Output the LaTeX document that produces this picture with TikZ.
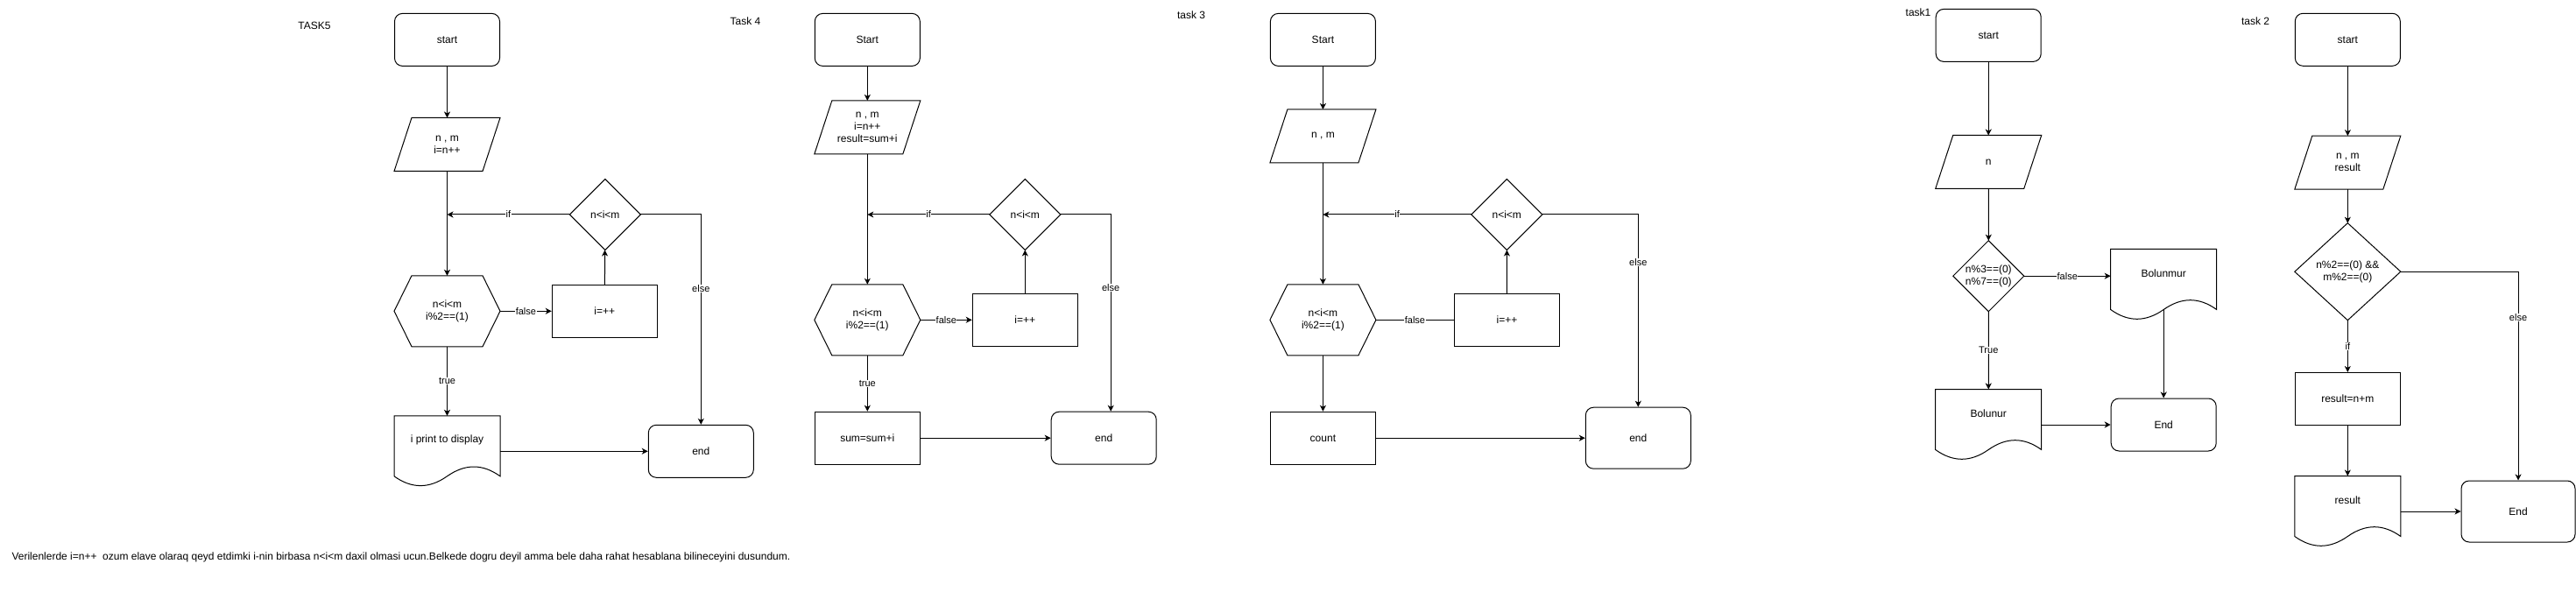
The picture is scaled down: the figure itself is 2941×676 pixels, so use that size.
\documentclass[tikz,border=0pt]{standalone}
\usepackage{fontspec}
\setmainfont{Liberation Sans}
\usetikzlibrary{arrows.meta}
\tikzset{
  base/.style={inner sep=0pt,align=center,font=\fontsize{12}{14}\selectfont},
  termbox/.style={base,draw,rounded corners=9pt,minimum width=120pt,minimum height=60pt},
  procbox/.style={base,draw,minimum width=120pt,minimum height=60pt},
  iobox/.style={base,minimum width=120pt,minimum height=60pt},
  hexbox/.style={base,minimum width=120pt,minimum height=80pt},
  decbox/.style={base,minimum width=80pt,minimum height=80pt},
  docbox/.style={base,minimum width=120pt,minimum height=80pt,label={[base,yshift=12.5pt]center:#1}},
  lbl/.style={fill=white,inner sep=0.5pt,font=\fontsize{11}{13}\selectfont},
}
\begin{document}
\begin{tikzpicture}[x=1pt,y=-1pt,line width=1pt,>={Stealth[length=7pt,width=7pt,inset=2pt]}]
  \useasboundingbox (0,0) rectangle (2941,676);
  % task 5
  \node[base] (t5) at (359,29.5) {TASK5};
  \node[termbox] (s5) at (510.5,45.4) {start};
  \node[iobox] (p5) at (510.5,165) {n , m\\i=n++};
  \node[decbox] (q5) at (690.8,245) {n<i<m};
  \node[hexbox] (h5) at (510.5,355.3) {n<i<m\\i\%2==(1)};
  \node[procbox] (i5) at (690.3,355.3) {i=++};
  \node[docbox={i print to display}] (d5) at (510.5,515.3) {};
  \node[termbox] (e5) at (800.3,515.3) {end};
  \draw[->] (s5) -- (p5);
  \draw[->] (p5) -- (h5);
  \draw[->] (q5) -- node[lbl]{if} (q5 -| p5);
  \draw[->] (h5) -- node[lbl]{false} (i5);
  \draw[->] (i5) -- (q5);
  \draw[->] (q5) -| node[lbl,pos=0.677]{else} (e5);
  \draw[->] (h5) -- node[lbl]{true} (d5);
  \draw[->] (d5) -- (e5);
  % task 4
  \node[base] (t4) at (851,24.5) {Task 4};
  \node[termbox] (s4) at (990.3,45.4) {Start};
  \node[iobox] (p4) at (990.3,145.4) {n , m\\i=n++\\result=sum+i};
  \node[decbox] (q4) at (1170.3,245) {n<i<m};
  \node[hexbox] (h4) at (990.3,365.3) {n<i<m\\i\%2==(1)};
  \node[procbox] (i4) at (1170.3,365.3) {i=++};
  \node[procbox] (b4) at (990.3,500.2) {sum=sum+i};
  \node[termbox] (e4) at (1260.2,500.2) {end};
  \draw[->] (s4) -- (p4);
  \draw[->] (p4) -- (h4);
  \draw[->] (q4) -- node[lbl]{if} (q4 -| p4);
  \draw[->] (h4) -- node[lbl]{false} (i4);
  \draw[->] (i4) -- (q4);
  \draw[->] (q4) -| node[lbl,pos=0.685]{else} ([xshift=8pt]e4.north);
  \draw[->] (h4) -- node[lbl]{true} (b4);
  \draw[->] (b4) -- (e4);
  % task 3
  \node[base] (t3) at (1360,17.2) {task 3};
  \node[termbox] (s3) at (1510.4,45.4) {Start};
  \node[iobox] (p3) at (1510.4,155.4) {n , m};
  \node[decbox] (q3) at (1720.3,245) {n<i<m};
  \node[hexbox] (h3) at (1510.4,365.3) {n<i<m\\i\%2==(1)};
  \node[procbox] (i3) at (1720.5,365.3) {i=++};
  \node[procbox] (c3) at (1510.4,500.2) {count};
  \node[termbox,minimum height=70pt] (e3) at (1870.3,500.2) {end};
  \draw[->] (s3) -- (p3);
  \draw[->] (p3) -- (h3);
  \draw[->] (q3) -- node[lbl]{if} (q3 -| p3);
  \draw (h3) -- node[lbl]{false} (i3);
  \draw[->] (i3) -- (q3);
  \draw[->] (q3) -| node[lbl,pos=0.625]{else} (e3);
  \draw[->] (h3) -- (c3);
  \draw[->] (c3) -- (e3);
  % task 1
  \node[base] (t1) at (2190,14.5) {task1};
  \node[termbox] (s1) at (2270.2,40.4) {start};
  \node[iobox] (p1) at (2270.2,185) {n};
  \node[decbox] (q1) at (2270.3,315.2) {n\%3==(0)\\n\%7==(0)};
  \node[docbox={Bolunmur}] (m1) at (2470.2,325) {};
  \node[docbox={Bolunur}] (u1) at (2270.2,485) {};
  \node[termbox] (e1) at (2470.2,485) {End};
  \draw[->] (s1) -- (p1);
  \draw[->] (p1) -- (q1);
  \draw[->] (q1) -- node[lbl]{false} (q1 -| m1.west);
  \draw[->] (q1) -- node[lbl]{True} (u1);
  \draw[->] ([yshift=12pt]m1.south) -- (e1);
  \draw[->] (u1) -- (e1);
  % task 2
  \node[base] (t2) at (2575,24.6) {task 2};
  \node[termbox] (s2) at (2680.3,45.3) {start};
  \node[iobox] (p2) at (2680.3,185.6) {n , m\\result};
  \node[decbox,minimum width=120pt,minimum height=110pt] (q2) at (2680.3,310.2) {n\%2==(0) \&\&\\m\%2==(0)};
  \node[procbox] (r2) at (2680.3,455.5) {result=n+m};
  \node[docbox={result}] (d2) at (2680.3,584) {};
  \node[termbox,minimum width=130pt,minimum height=70pt] (e2) at (2875,584) {End};
  \draw[->] (s2) -- (p2);
  \draw[->] (p2) -- (q2);
  \draw[->] (q2) -- node[lbl]{if} (r2);
  \draw[->] (q2) -| node[lbl,pos=0.609]{else} (e2);
  \draw[->] (r2) -- (d2);
  \draw[->] (d2) -- (e2);
  % outlines
  \foreach \n in {p5,p4,p3,p1,p2}
    \draw ([xshift=20pt]\n.north west) -- (\n.north east) -- ([xshift=-20pt]\n.south east) -- (\n.south west) -- cycle;
  \foreach \n in {h5,h4,h3}
    \draw ([xshift=20pt]\n.north west) -- ([xshift=-20pt]\n.north east) -- (\n.east)
      -- ([xshift=-20pt]\n.south east) -- ([xshift=20pt]\n.south west) -- (\n.west) -- cycle;
  \foreach \n in {q5,q4,q3,q1,q2}
    \draw (\n.north) -- (\n.east) -- (\n.south) -- (\n.west) -- cycle;
  \foreach \n in {d5,m1,u1,d2}
    \draw (\n.north west) -- (\n.north east) -- ([yshift=12pt]\n.south east)
      .. controls ([xshift=-20pt,yshift=26.4pt]\n.south east) and ([xshift=-40pt,yshift=26.4pt]\n.south east) .. ([yshift=12pt]\n.south)
      .. controls ([xshift=40pt,yshift=-2.4pt]\n.south west) and ([xshift=20pt,yshift=-2.4pt]\n.south west) .. ([yshift=12pt]\n.south west) -- cycle;
  % note
  \node[base,anchor=west] (note) at (13,636) {Verilenlerde i=n++\ \ ozum elave olaraq qeyd etdimki i-nin birbasa n<i<m daxil olmasi ucun.Belkede dogru deyil amma bele daha rahat hesablana bilineceyini dusundum.};
\end{tikzpicture}
\end{document}
